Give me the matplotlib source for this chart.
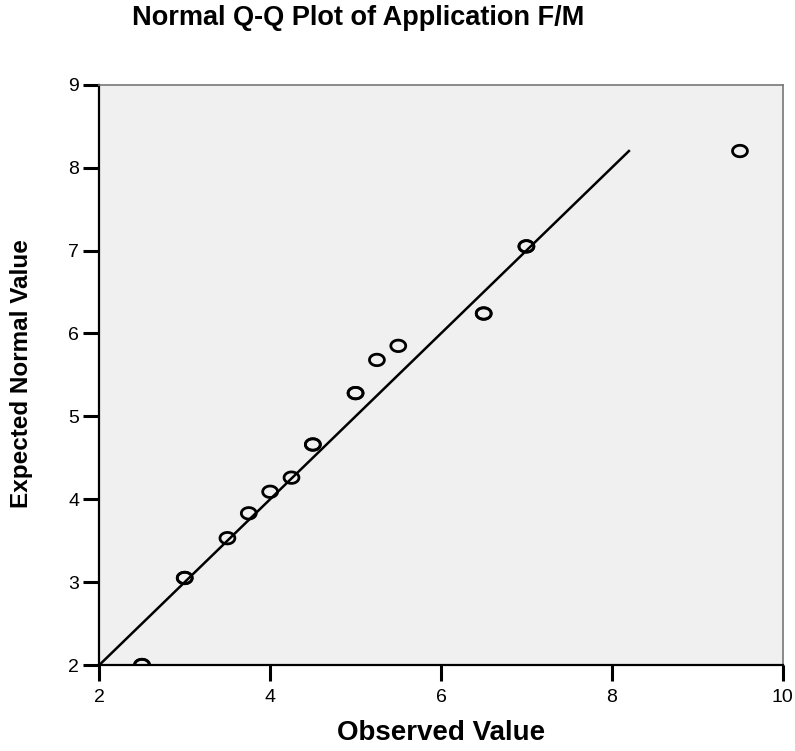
import matplotlib
matplotlib.use("Agg")
import numpy as np
import matplotlib.pyplot as plt
from matplotlib.path import Path

plt.rcParams['font.family'] = ['Liberation Sans', 'DejaVu Sans']

observed = [2.5, 2.5, 3.0, 3.0, 3.5, 3.75, 4.0, 4.25, 4.5, 4.5, 5.0, 5.0,
            5.25, 5.5, 6.5, 6.5, 7.0, 7.0, 9.5]
expected = [2.0, 2.0, 3.05, 3.05, 3.53, 3.83, 4.09, 4.26, 4.66, 4.66, 5.28, 5.28,
            5.68, 5.85, 6.24, 6.24, 7.05, 7.05, 8.2]
line_x = [2.0, 8.2]
line_y = [2.0, 8.2]
xticks = [2, 4, 6, 8, 10]
yticks = [2, 3, 4, 5, 6, 7, 8, 9]

# slightly wide elliptical ring marker, like the reference
theta = np.linspace(0, 2 * np.pi, 61)
ell = Path(np.column_stack([1.3 * np.cos(theta), np.sin(theta)]), closed=True)

fig = plt.figure(figsize=(7.95, 7.51), dpi=100)
ax = fig.add_axes([0.1249, 0.1145, 0.8596, 0.7727])
ax.set_facecolor('#f0f0f0')

ax.plot(line_x, line_y, color='black', lw=1.8, zorder=2)
ax.scatter(observed, expected, s=115, marker=ell, facecolors='none',
           edgecolors='black', linewidths=2.0, zorder=3)

ax.set_xlim(2, 10)
ax.set_ylim(2, 9)
ax.set_xticks(xticks)
ax.set_yticks(yticks)
ax.set_xticklabels([str(t) for t in xticks], fontsize=14)
ax.set_yticklabels([str(t) for t in yticks], fontsize=14)
ax.tick_params(direction='out', length=11.5, width=2.2, color='black')
ax.tick_params(axis='x', pad=6)
ax.tick_params(axis='y', pad=3)

for s in ['left', 'bottom']:
    ax.spines[s].set_color('black')
    ax.spines[s].set_linewidth(1.6)
for s in ['top', 'right']:
    ax.spines[s].set_color('#777777')
    ax.spines[s].set_linewidth(1.2)

fig.text(358/795, 1 - 25/751, 'Normal Q-Q Plot of Application F/M', ha='center',
         va='baseline', fontsize=19.5, fontweight='bold')
fig.text(441/795, 1 - 733/751, 'Observed Value', ha='center', va='center',
         fontsize=20, fontweight='bold')
fig.text(22/795, 1 - 374/751, 'Expected Normal Value', ha='center', va='center',
         rotation=90, fontsize=17.5, fontweight='bold')

fig.savefig('out.png', dpi=100)
